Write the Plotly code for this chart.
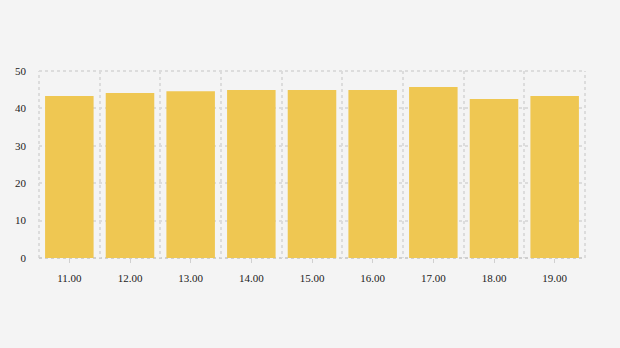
import plotly.graph_objects as go

categories = ["11.00", "12.00", "13.00", "14.00", "15.00", "16.00", "17.00", "18.00", "19.00"]
values = [43.3, 44.1, 44.6, 44.9, 44.9, 44.9, 45.7, 42.5, 43.3]
y_ticks = [0, 10, 20, 30, 40, 50]

positions = list(range(len(categories)))
boundaries = [p - 0.5 for p in positions] + [positions[-1] + 0.5]

fig = go.Figure(go.Bar(
    x=positions, y=values, width=0.8,
    marker=dict(color="#efc752", line=dict(width=0)),
    hoverinfo="x+y",
))

font = dict(family="Liberation Serif, Times New Roman, serif", size=11, color="#222")
grid = "#dcdcdc"

fig.update_layout(
    width=620, height=348,
    margin=dict(l=39, r=35, t=71, b=90),
    paper_bgcolor="#f4f4f4", plot_bgcolor="#f4f4f4",
    showlegend=False, font=font,
    xaxis=dict(
        range=[-0.5, len(categories) - 0.5],
        tickvals=positions, ticktext=categories,
        showgrid=False, zeroline=False,
        ticks="outside", ticklen=4, tickcolor="#d0d0d0", tickwidth=1,
        showline=False, tickfont=font, ticklabelstandoff=6,
        minor=dict(tickvals=boundaries, showgrid=True, gridcolor=grid,
                   griddash="dot", gridwidth=2, ticks=""),
        fixedrange=True,
    ),
    yaxis=dict(
        range=[0, 50], tickvals=y_ticks,
        showgrid=True, gridcolor=grid, griddash="dot", gridwidth=2,
        zeroline=False, showline=False, ticks="", tickfont=font,
        ticklabelstandoff=12, fixedrange=True,
    ),
)

# dotted frame around the plot area (edge grid lines)
for x0, y0, x1, y1, c in [(0, 1, 1, 1, grid), (0, 0, 0, 1, grid), (1, 0, 1, 1, grid), (0, 0, 1, 0, "#cfcfcf")]:
    fig.add_shape(type="line", xref="paper", yref="paper", x0=x0, y0=y0, x1=x1, y1=y1,
                  line=dict(color=c, width=2, dash="dot"), layer="below")

fig.write_html("out.html")
